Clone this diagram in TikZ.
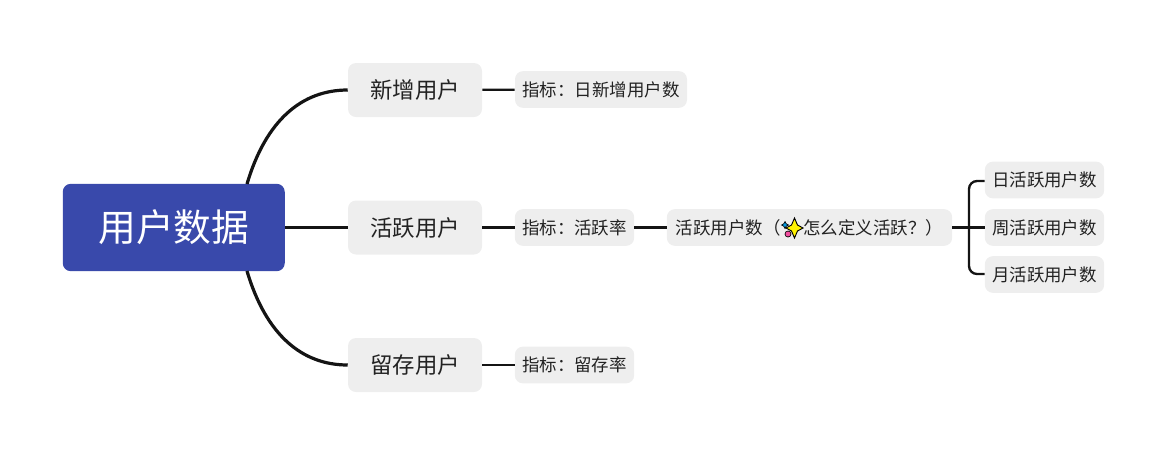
\documentclass[tikz,border=0pt]{standalone}
\usepackage{fontspec}
\setmainfont{Noto Sans CJK SC}
\newcommand{\wcolon}{\symbol{"FF1A}}
\newcommand{\wopen}{\symbol{"FF08}}
\newcommand{\wclose}{\symbol{"FF09}}
\newcommand{\wask}{\symbol{"FF1F}}

\begin{document}
\begin{tikzpicture}[x=0.75pt, y=-0.75pt,
		rootbox/.style={fill=rootblue, text=white, rounded corners=6pt, minimum width=166.5pt, minimum height=65.5pt, inner sep=0pt, font=\fontsize{28.3}{30}\selectfont},
		topicbox/.style={fill=boxgray, text=inkgray, rounded corners=6pt, minimum width=100.5pt, minimum height=40.5pt, inner sep=0pt, font=\fontsize{16.8}{18}\selectfont},
		leafbox/.style={fill=boxgray, text=inkgray, rounded corners=6pt, minimum height=27.5pt, inner sep=0pt, font=\fontsize{13.1}{15}\selectfont},
		bigline/.style={draw=linedark, line width=2.4pt},
		smallline/.style={draw=linedark, line width=1.75pt}]
		\definecolor{rootblue}{HTML}{3949AB}
		\definecolor{boxgray}{HTML}{EEEEEE}
		\definecolor{inkgray}{HTML}{222222}
		\definecolor{linedark}{HTML}{141414}
		\useasboundingbox (0, 0) rectangle (1167, 455);

		\coordinate (rootup) at (247, 184);
		\coordinate (rootdown) at (247, 271);
		\coordinate (forkup) at (969, 181);
		\coordinate (forkdown) at (969, 274);

		\node[rootbox] (root) at (173.75, 227.5) {用户数据};
		\node[topicbox] (fresh) at (415, 90) {新增用户};
		\node[topicbox] (active) at (415, 227.5) {活跃用户};
		\node[topicbox] (retain) at (415, 365) {留存用户};

		\draw[bigline] (rootup) .. controls (266, 120) and (302, 90) .. (fresh.west);
		\draw[bigline] (rootdown) .. controls (266, 335) and (302, 365) .. (retain.west);
		\draw[bigline] (root) -- (active);

		\node[leafbox, minimum width=129pt] (freshrate) at (601, 89.5) {指标\wcolon 日新增用户数};
		\node[leafbox, minimum width=89.5pt] (activerate) at (574.5, 227.5) {指标\wcolon 活跃率};
		\node[leafbox, minimum width=89.5pt] (retainrate) at (574.5, 365) {指标\wcolon 留存率};
		\node[leafbox, minimum width=214pt] (count) at (809.5, 227.5) {活跃用户数\wopen\hspace{17pt}怎么定义活跃\wask\wclose};
		\node[leafbox, minimum width=89.5pt] (daily) at (1044.5, 180) {日活跃用户数};
		\node[leafbox, minimum width=89.5pt] (weekly) at (1044.5, 227.5) {周活跃用户数};
		\node[leafbox, minimum width=89.5pt] (monthly) at (1044.5, 274.5) {月活跃用户数};

		\draw[smallline] (fresh) -- (freshrate);
		\draw[smallline] (active) -- (activerate);
		\draw[smallline] (retain) -- (retainrate);
		\draw[smallline] (activerate) -- (count);
		\draw[smallline] (count) -- (weekly);
		\draw[smallline, rounded corners=6pt] (daily.west |- forkup) -- (forkup) -- (forkdown) -- (monthly.west |- forkdown);

		% sparkle in the label
		\begin{scope}[shift={(794.5, 228)}]
		\fill[cyan!85!blue, draw=black, line width=0.5pt] (-9.5, -6.5) -- (-8.3, -4.2) -- (-6, -3) -- (-8.3, -1.8) -- (-9.5, 0.5) -- (-10.7, -1.8) -- (-13, -3) -- (-10.7, -4.2) -- cycle;
		\fill[magenta!60!pink, draw=black, line width=0.5pt] (-6.5, 6) circle (3);
		\fill[yellow, draw=black, line width=0.7pt] (0, -10) -- (3, -3) -- (8.5, 0) -- (3, 3) -- (0, 10) -- (-3, 3) -- (-8.5, 0) -- (-3, -3) -- cycle;
		\end{scope}
\end{tikzpicture}
\end{document}
